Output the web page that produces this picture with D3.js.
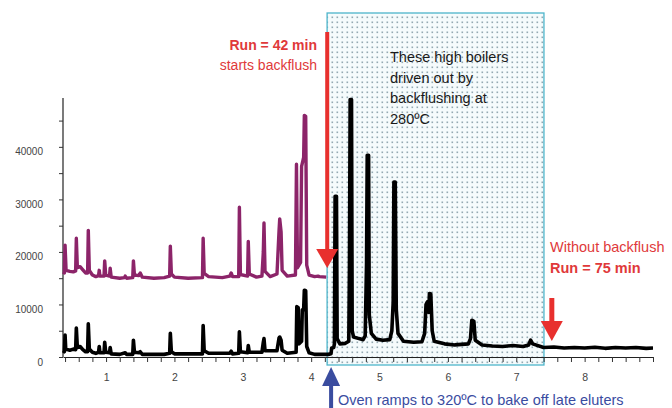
<!DOCTYPE html>
<html>
<head>
<meta charset="utf-8">
<script src="https://cdn.jsdelivr.net/npm/d3@7"></script>
<style>
  body { margin: 0; background: #fff; }
  svg text { font-family: "Liberation Sans", Arial, sans-serif; }
</style>
</head>
<body>
<div id="chart"></div>
<script>
// purple trace: with backflush (run stops at 42 min)
var purpleTime = [0.37, 0.39, 0.40, 0.415, 0.47, 0.52, 0.555, 0.565, 0.58, 0.62, 0.66, 0.70, 0.73, 0.74, 0.755,
  0.80, 0.85, 0.89, 0.90, 0.91, 0.97, 0.98, 0.995, 1.05, 1.06, 1.075, 1.2, 1.27, 1.28, 1.30, 1.39, 1.40, 1.415,
  1.48, 1.50, 1.53, 1.7, 1.85, 1.93, 1.94, 1.955, 2.0, 2.2, 2.41, 2.42, 2.435, 2.5, 2.7, 2.81, 2.83, 2.85,
  2.94, 2.95, 2.965, 3.07, 3.08, 3.095, 3.2, 3.28, 3.30, 3.31, 3.325, 3.4, 3.50, 3.53, 3.54, 3.56, 3.575,
  3.65, 3.77, 3.785, 3.80, 3.845, 3.86, 3.89, 3.90, 3.92, 3.935, 3.97, 4.05, 4.1, 4.12, 4.22];
var purpleSignal = [16200, 16000, 21300, 16500, 16300, 16200, 16400, 22600, 17000, 17200, 16600, 16000, 16000, 24100, 16500,
  15600, 15300, 15500, 16500, 15400, 15400, 18300, 15600, 15400, 16900, 15200, 15000, 15100, 15400, 15000, 15100, 18300, 15600,
  15500, 16000, 15200, 15000, 15100, 15400, 21100, 15800, 15200, 15000, 15100, 22600, 15900, 15300, 15100, 15400, 16000, 15300,
  15300, 28500, 15700, 15400, 22000, 15800, 15200, 15400, 20000, 25500, 16300, 15300, 15800, 24000, 26300, 23800, 16500,
  15400, 15600, 36700, 17000, 18000, 36300, 38000, 46000, 45800, 17500, 15600, 15300, 15400, 15300, 15200];

// black trace: without backflush
var blackTime = [0.37, 0.39, 0.40, 0.41, 0.47, 0.52, 0.555, 0.565, 0.58, 0.62, 0.66, 0.70, 0.73, 0.74, 0.755,
  0.80, 0.85, 0.89, 0.90, 0.91, 0.97, 0.98, 0.995, 1.05, 1.06, 1.075, 1.2, 1.28, 1.30, 1.39, 1.40, 1.415,
  1.48, 1.50, 1.53, 1.85, 1.93, 1.94, 1.955, 2.0, 2.41, 2.42, 2.435, 2.5, 2.81, 2.83, 2.85, 2.94, 2.95, 2.965,
  3.07, 3.08, 3.095, 3.28, 3.30, 3.31, 3.325, 3.50, 3.53, 3.54, 3.56, 3.575, 3.65, 3.78, 3.79, 3.81, 3.82,
  3.86, 3.87, 3.89, 3.90, 3.92, 3.935, 3.97, 4.05, 4.25, 4.29, 4.30, 4.33, 4.34, 4.35, 4.37, 4.38, 4.42,
  4.5, 4.55, 4.56, 4.57, 4.59, 4.60, 4.62, 4.7, 4.76, 4.79, 4.81, 4.82, 4.84, 4.85, 4.88, 4.95, 5.05, 5.15,
  5.18, 5.20, 5.21, 5.23, 5.245, 5.27, 5.35, 5.5, 5.62, 5.66, 5.68, 5.70, 5.72, 5.73, 5.75, 5.77, 5.8, 5.95,
  6.1, 6.30, 6.33, 6.35, 6.38, 6.40, 6.5, 6.65, 6.8, 6.95, 7.1, 7.18, 7.21, 7.24, 7.4, 7.55, 7.7, 7.85, 8.0,
  8.15, 8.3, 8.45, 8.6, 8.75, 8.9, 9.0];
var blackSignal = [1200, 1000, 4200, 1500, 1300, 1500, 1400, 5500, 1800, 2000, 1400, 1000, 1000, 6300, 1500,
  900, 700, 900, 2000, 800, 800, 2800, 900, 800, 1800, 600, 500, 800, 500, 500, 3200, 900,
  800, 1000, 500, 500, 700, 4500, 1000, 600, 600, 6000, 1200, 700, 700, 1100, 600, 700, 4800, 1000,
  800, 2200, 900, 900, 2800, 3500, 1200, 1200, 3600, 3800, 3200, 1300, 700, 900, 9600, 9400, 2500,
  3000, 9000, 9000, 12700, 12600, 2000, 800, 500, 500, 600, 1700, 1800, 2500, 30600, 30600, 3500, 2500,
  2600, 3000, 17000, 49000, 49000, 5000, 3800, 3500, 3300, 4000, 17800, 38400, 38400, 8000, 4500, 3400, 3200, 3300,
  5000, 10500, 33300, 33300, 9000, 4500, 3000, 2800, 2900, 4500, 10000, 10500, 8500, 12100, 12000, 5000, 3000, 2500,
  2300, 2500, 3500, 7000, 6800, 3200, 2300, 2100, 2000, 2200, 2000, 2300, 3200, 2500, 1800, 1900, 1700, 1800, 1700,
  1850, 1650, 1800, 1700, 1800, 1650, 1700];

var yTickValues = [0, 5000, 10000, 15000, 20000, 25000, 30000, 35000, 40000, 45000];
var yLabelValues = [0, 10000, 20000, 30000, 40000];
var xLabelValues = [1, 2, 3, 4, 5, 6, 7, 8];

var backflushStart = 4.22;   // run = 42 min
var bakeStart = 4.35;        // oven ramp
var shadedEnd = 7.405;
var noBackflushEnd = 7.52;   // run = 75 min

var width = 672, height = 408;

var svg = d3.select("#chart")
  .append("svg")
  .attr("width", width)
  .attr("height", height);

var x = d3.scaleLinear().domain([0.37, 9.0]).range([63, 653]);
var y = d3.scaleLinear().domain([0, 49300]).range([357, 98]);

// dotted pattern for the shaded box
var defs = svg.append("defs");
var pat = defs.append("pattern")
  .attr("id", "dots")
  .attr("width", 5)
  .attr("height", 5)
  .attr("patternUnits", "userSpaceOnUse");
pat.append("rect").attr("width", 5).attr("height", 5).attr("fill", "#f5fbfc");
pat.append("rect").attr("x", 1.5).attr("y", 1.5).attr("width", 1.6).attr("height", 1.6).attr("fill", "#93a9b2");

svg.append("rect")
  .attr("x", x(bakeStart) - 8)
  .attr("y", 13)
  .attr("width", x(shadedEnd) - x(bakeStart) + 8)
  .attr("height", 352)
  .attr("fill", "url(#dots)")
  .attr("stroke", "#4db5cb")
  .attr("stroke-width", 1.3);

// axes
var xAxis = svg.append("g")
  .attr("transform", "translate(0," + y(0) + ")")
  .call(d3.axisBottom(x)
    .tickValues(d3.range(0.4, 9.01, 0.2))
    .tickSize(5)
    .tickSizeOuter(0)
    .tickPadding(12)
    .tickFormat(function(d) {
      var r = Math.round(d);
      return (Math.abs(d - r) < 0.001 && xLabelValues.indexOf(r) >= 0) ? r : "";
    }));
xAxis.select(".domain").attr("stroke", "#222").attr("stroke-width", 1.2);
xAxis.selectAll(".tick line").attr("stroke", "#333");
xAxis.selectAll("text").attr("font-size", 10.5).attr("fill", "#444");

var yAxis = svg.append("g")
  .attr("transform", "translate(" + x.range()[0] + ",0)")
  .call(d3.axisLeft(y)
    .tickValues(yTickValues)
    .tickSize(4)
    .tickSizeOuter(0)
    .tickPadding(16)
    .tickFormat(function(d) { return yLabelValues.indexOf(d) >= 0 ? d : ""; }));
yAxis.select(".domain").attr("stroke", "#222").attr("stroke-width", 1.2)
  .attr("d", "M0," + y(0) + "V98");
yAxis.selectAll(".tick line").attr("stroke", "#333");
yAxis.selectAll("text").attr("font-size", 10).attr("fill", "#444").attr("dy", "0.8em");

// traces
var line = d3.line()
  .x(function(d) { return x(d[0]); })
  .y(function(d) { return y(d[1]); });

var purpleData = purpleTime.map(function(t, i) { return [t, purpleSignal[i]]; });
var blackData = blackTime.map(function(t, i) { return [t, blackSignal[i]]; });

svg.append("path")
  .datum(purpleData)
  .attr("fill", "none")
  .attr("stroke", "#8c2469")
  .attr("stroke-width", 3.4)
  .attr("stroke-linejoin", "round")
  .attr("d", line);

svg.append("path")
  .datum(blackData)
  .attr("fill", "none")
  .attr("stroke", "#000")
  .attr("stroke-width", 3.6)
  .attr("stroke-linejoin", "round")
  .attr("d", line);

// red arrow: backflush start
var ax1 = x(backflushStart) + 1;
svg.append("rect")
  .attr("x", ax1 - 2).attr("y", 32).attr("width", 4).attr("height", 222)
  .attr("fill", "#e8302e");
svg.append("path")
  .attr("d", "M" + (ax1 - 11) + ",249L" + (ax1 + 11) + ",249L" + ax1 + ",268Z")
  .attr("fill", "#e8302e");

// red arrow: without backflush
var ax2 = x(noBackflushEnd);
svg.append("rect")
  .attr("x", ax2 - 2.5).attr("y", 298).attr("width", 5).attr("height", 26)
  .attr("fill", "#e8302e");
svg.append("path")
  .attr("d", "M" + (ax2 - 11) + ",321L" + (ax2 + 11) + ",321L" + ax2 + ",341Z")
  .attr("fill", "#e8302e");

// blue arrow: oven ramp
var ax3 = x(bakeStart) - 4;
svg.append("path")
  .attr("d", "M" + (ax3 - 9) + ",386L" + (ax3 + 9) + ",386L" + ax3 + ",367Z")
  .attr("fill", "#3a4c9f");
svg.append("rect")
  .attr("x", ax3 - 2).attr("y", 384).attr("width", 4).attr("height", 24)
  .attr("fill", "#3a4c9f");

// annotations
svg.append("text")
  .attr("x", 317).attr("y", 50)
  .attr("text-anchor", "end")
  .attr("font-size", 14).attr("font-weight", "bold")
  .attr("fill", "#e0393a")
  .text("Run = 42 min");
svg.append("text")
  .attr("x", 317).attr("y", 70)
  .attr("text-anchor", "end")
  .attr("font-size", 14)
  .attr("fill", "#e0393a")
  .text("starts backflush");

var boilers = ["These high boilers", "driven out by", "backflushing at", "280\u00baC"];
svg.append("g").selectAll("text")
  .data(boilers)
  .enter()
  .append("text")
  .attr("x", 390)
  .attr("y", function(d, i) { return 62 + i * 20.5; })
  .attr("font-size", 14.5)
  .attr("fill", "#1a1a1a")
  .text(function(d) { return d; });

svg.append("text")
  .attr("x", 550).attr("y", 252)
  .attr("font-size", 14.5)
  .attr("fill", "#e0393a")
  .text("Without backflush");
svg.append("text")
  .attr("x", 550).attr("y", 273)
  .attr("font-size", 14.5).attr("font-weight", "bold")
  .attr("fill", "#e0393a")
  .text("Run = 75 min");

svg.append("text")
  .attr("x", 338).attr("y", 405)
  .attr("font-size", 14.5)
  .attr("fill", "#3a4c9f")
  .text("Oven ramps to 320\u00baC to bake off late eluters");
</script>
</body>
</html>
